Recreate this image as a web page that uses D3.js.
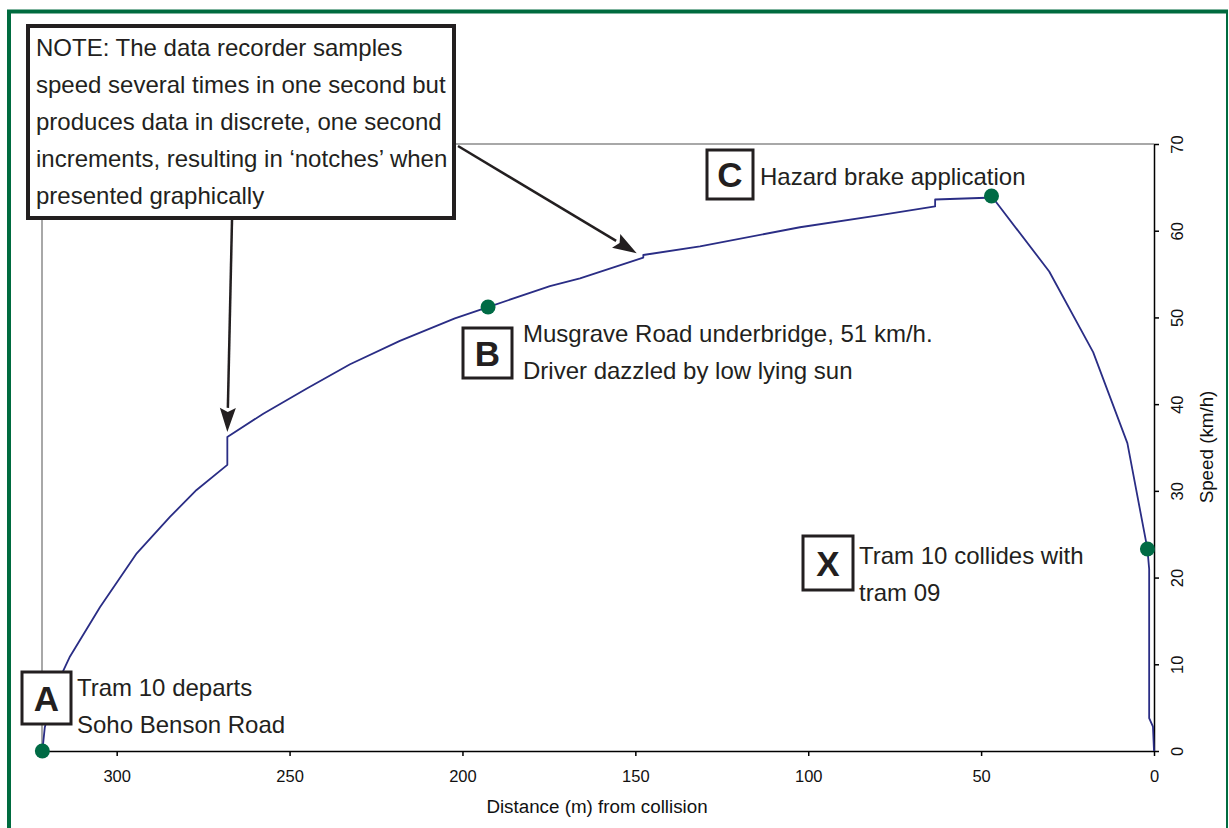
<!DOCTYPE html>
<html>
<head>
<meta charset="utf-8">
<script src="https://cdn.jsdelivr.net/npm/d3@7"></script>
<style>
  body { margin: 0; background: #fff; }
  svg { display: block; font-family: 'Liberation Sans', Arial, sans-serif; }
  .axis path, .axis line { stroke: #000; stroke-width: 1.5; }
  .axis text { font-size: 16.5px; fill: #111; font-family: 'Liberation Sans', Arial, sans-serif; }
  .note { font-size: 24px; fill: #231f20; }
  .letter { font-size: 35px; font-weight: bold; fill: #231f20; }
</style>
</head>
<body>
<div id="chart"></div>
<script>
// speed trace (distance before collision in m, speed in km/h)
var distanceM = [321.5, 320.8, 318.5, 315.4, 313.5, 304.8, 294.2, 284.6, 276.9, 268.0, 268.0, 257.6, 245.0, 232.5, 218.1, 202.2, 192.6, 174.7, 166.0, 147.7, 147.7, 131.3, 102.4, 79.2, 63.3, 63.3, 48.4, 47.0, 30.3, 17.6, 7.7, 1.9, 1.4, 1.4, 0.3, 0];
var speedKmh   = [0, 2.7, 6.2, 9.3, 10.9, 16.6, 22.8, 27.0, 30.1, 33.0, 36.2, 38.9, 41.8, 44.6, 47.3, 49.9, 51.2, 53.6, 54.5, 56.9, 57.2, 58.2, 60.4, 61.8, 62.8, 63.6, 63.8, 64.0, 55.3, 46.0, 35.5, 23.3, 21.0, 3.8, 2.8, 0];

// marked events
var eventKeys = ['A', 'B', 'C', 'X'];
var eventDistance = [321.5, 192.6, 47.0, 1.9];
var eventSpeed = [0, 51.2, 64.0, 23.3];
var eventText = [
    ['Tram 10 departs', 'Soho Benson Road'],
    ['Musgrave Road underbridge, 51 km/h.', 'Driver dazzled by low lying sun'],
    ['Hazard brake application'],
    ['Tram 10 collides with', 'tram 09']
];

// notches the note points at
var notchDistance = [268.0, 149.6];
var notchSpeed = [36.8, 57.4];
var noteLines = [
    'NOTE: The data recorder samples',
    'speed several times in one second but',
    'produces data in discrete, one second',
    'increments, resulting in \u2018notches\u2019 when',
    'presented graphically'
];

var xTicks = [0, 50, 100, 150, 200, 250, 300];
var yTicks = [0, 10, 20, 30, 40, 50, 60, 70];

var width = 1229, height = 828;
var plot = {left: 42, right: 1154, top: 144, bottom: 751};

var svg = d3.select('#chart')
    .append('svg')
    .attr('width', width)
    .attr('height', height);

// green frame
svg.append('line').attr('x1', 9).attr('y1', 11.5).attr('x2', 9).attr('y2', height)
    .attr('stroke', '#006b3f').attr('stroke-width', 4);
svg.append('line').attr('x1', 7).attr('y1', 11.5).attr('x2', 1228).attr('y2', 11.5)
    .attr('stroke', '#006b3f').attr('stroke-width', 4);
svg.append('line').attr('x1', 1227).attr('y1', 11.5).attr('x2', 1227).attr('y2', height)
    .attr('stroke', '#006b3f').attr('stroke-width', 2);

var xScale = d3.scaleLinear()
    .domain([0, 321.6])
    .range([plot.right, plot.left]);

var yScale = d3.scaleLinear()
    .domain([0, 70])
    .range([plot.bottom, plot.top]);

// plot area border (top and left, grey)
svg.append('path')
    .attr('d', 'M' + plot.left + ',' + plot.bottom + 'V' + plot.top + 'H' + plot.right)
    .attr('fill', 'none')
    .attr('stroke', '#8c8c8c')
    .attr('stroke-width', 1.5);

var xAxis = svg.append('g')
    .classed('axis', true)
    .attr('transform', 'translate(0,' + plot.bottom + ')')
    .call(d3.axisBottom(xScale).tickValues(xTicks).tickSizeInner(5).tickSizeOuter(0).tickPadding(14));

var yAxis = svg.append('g')
    .classed('axis', true)
    .attr('transform', 'translate(' + plot.right + ',0)')
    .call(d3.axisRight(yScale).tickValues(yTicks).tickSizeInner(5).tickSizeOuter(0));

yAxis.selectAll('text')
    .attr('x', null)
    .attr('dy', null)
    .attr('text-anchor', 'middle')
    .attr('transform', 'translate(29,0) rotate(-90)');

svg.append('text')
    .attr('x', 597)
    .attr('y', 813)
    .attr('text-anchor', 'middle')
    .style('font-size', '18.8px')
    .style('fill', '#111')
    .text('Distance (m) from collision');

svg.append('text')
    .attr('transform', 'translate(1213,447) rotate(-90)')
    .attr('text-anchor', 'middle')
    .style('font-size', '18.8px')
    .style('fill', '#111')
    .text('Speed (km/h)');

// speed line
var trace = distanceM.map(function(d, i) { return [d, speedKmh[i]]; });
var line = d3.line()
    .x(function(d) { return xScale(d[0]); })
    .y(function(d) { return yScale(d[1]); });

svg.append('path')
    .datum(trace)
    .attr('d', line)
    .attr('fill', 'none')
    .attr('stroke', '#2a2d85')
    .attr('stroke-width', 1.8)
    .attr('stroke-linejoin', 'round');

svg.append('g')
    .selectAll('circle')
    .data(eventKeys)
    .enter()
    .append('circle')
    .attr('cx', function(d, i) { return xScale(eventDistance[i]); })
    .attr('cy', function(d, i) { return yScale(eventSpeed[i]); })
    .attr('r', 7.5)
    .attr('fill', '#006b45');

// lettered boxes with labels
var boxes = {
    A: {x: 22, y: 672, w: 49, h: 52, tx: 77, ty: 696},
    B: {x: 463, y: 328, w: 49, h: 50, tx: 523, ty: 342},
    C: {x: 707, y: 150, w: 46, h: 49, tx: 760, ty: 185},
    X: {x: 803, y: 536, w: 50, h: 54, tx: 859, ty: 564}
};

eventKeys.forEach(function(k, i) {
    var b = boxes[k];
    var g = svg.append('g');
    g.append('rect')
        .attr('x', b.x).attr('y', b.y)
        .attr('width', b.w).attr('height', b.h)
        .attr('fill', '#fff')
        .attr('stroke', '#231f20')
        .attr('stroke-width', 3);
    g.append('text')
        .classed('letter', true)
        .attr('x', b.x + b.w / 2)
        .attr('y', b.y + b.h / 2 + 12.5)
        .attr('text-anchor', 'middle')
        .text(k);
    eventText[i].forEach(function(t, j) {
        g.append('text')
            .classed('note', true)
            .attr('x', b.tx)
            .attr('y', b.ty + j * 36.5)
            .text(t);
    });
});

// note box
svg.append('rect')
    .attr('x', 28).attr('y', 26)
    .attr('width', 426).attr('height', 192)
    .attr('fill', '#fff')
    .attr('stroke', '#231f20')
    .attr('stroke-width', 4);

noteLines.forEach(function(t, j) {
    svg.append('text')
        .classed('note', true)
        .attr('x', 36)
        .attr('y', 56 + j * 37)
        .text(t);
});

// arrows from the note to the notches
var arrowStart = [[232, 220], [458, 146]];
notchDistance.forEach(function(d, i) {
    var x0 = arrowStart[i][0], y0 = arrowStart[i][1];
    var x1 = xScale(d), y1 = yScale(notchSpeed[i]);
    var len = Math.hypot(x1 - x0, y1 - y0);
    var ux = (x1 - x0) / len, uy = (y1 - y0) / len;
    var hl = 24, hw = 8;
    var bx = x1 - ux * hl, by = y1 - uy * hl;
    svg.append('line')
        .attr('x1', x0).attr('y1', y0)
        .attr('x2', bx).attr('y2', by)
        .attr('stroke', '#231f20')
        .attr('stroke-width', 2.5);
    svg.append('path')
        .attr('d', 'M' + x1 + ',' + y1 +
            'L' + (bx - uy * hw) + ',' + (by + ux * hw) +
            'L' + (bx + ux * 4) + ',' + (by + uy * 4) +
            'L' + (bx + uy * hw) + ',' + (by - ux * hw) + 'Z')
        .attr('fill', '#231f20');
});
</script>
</body>
</html>
